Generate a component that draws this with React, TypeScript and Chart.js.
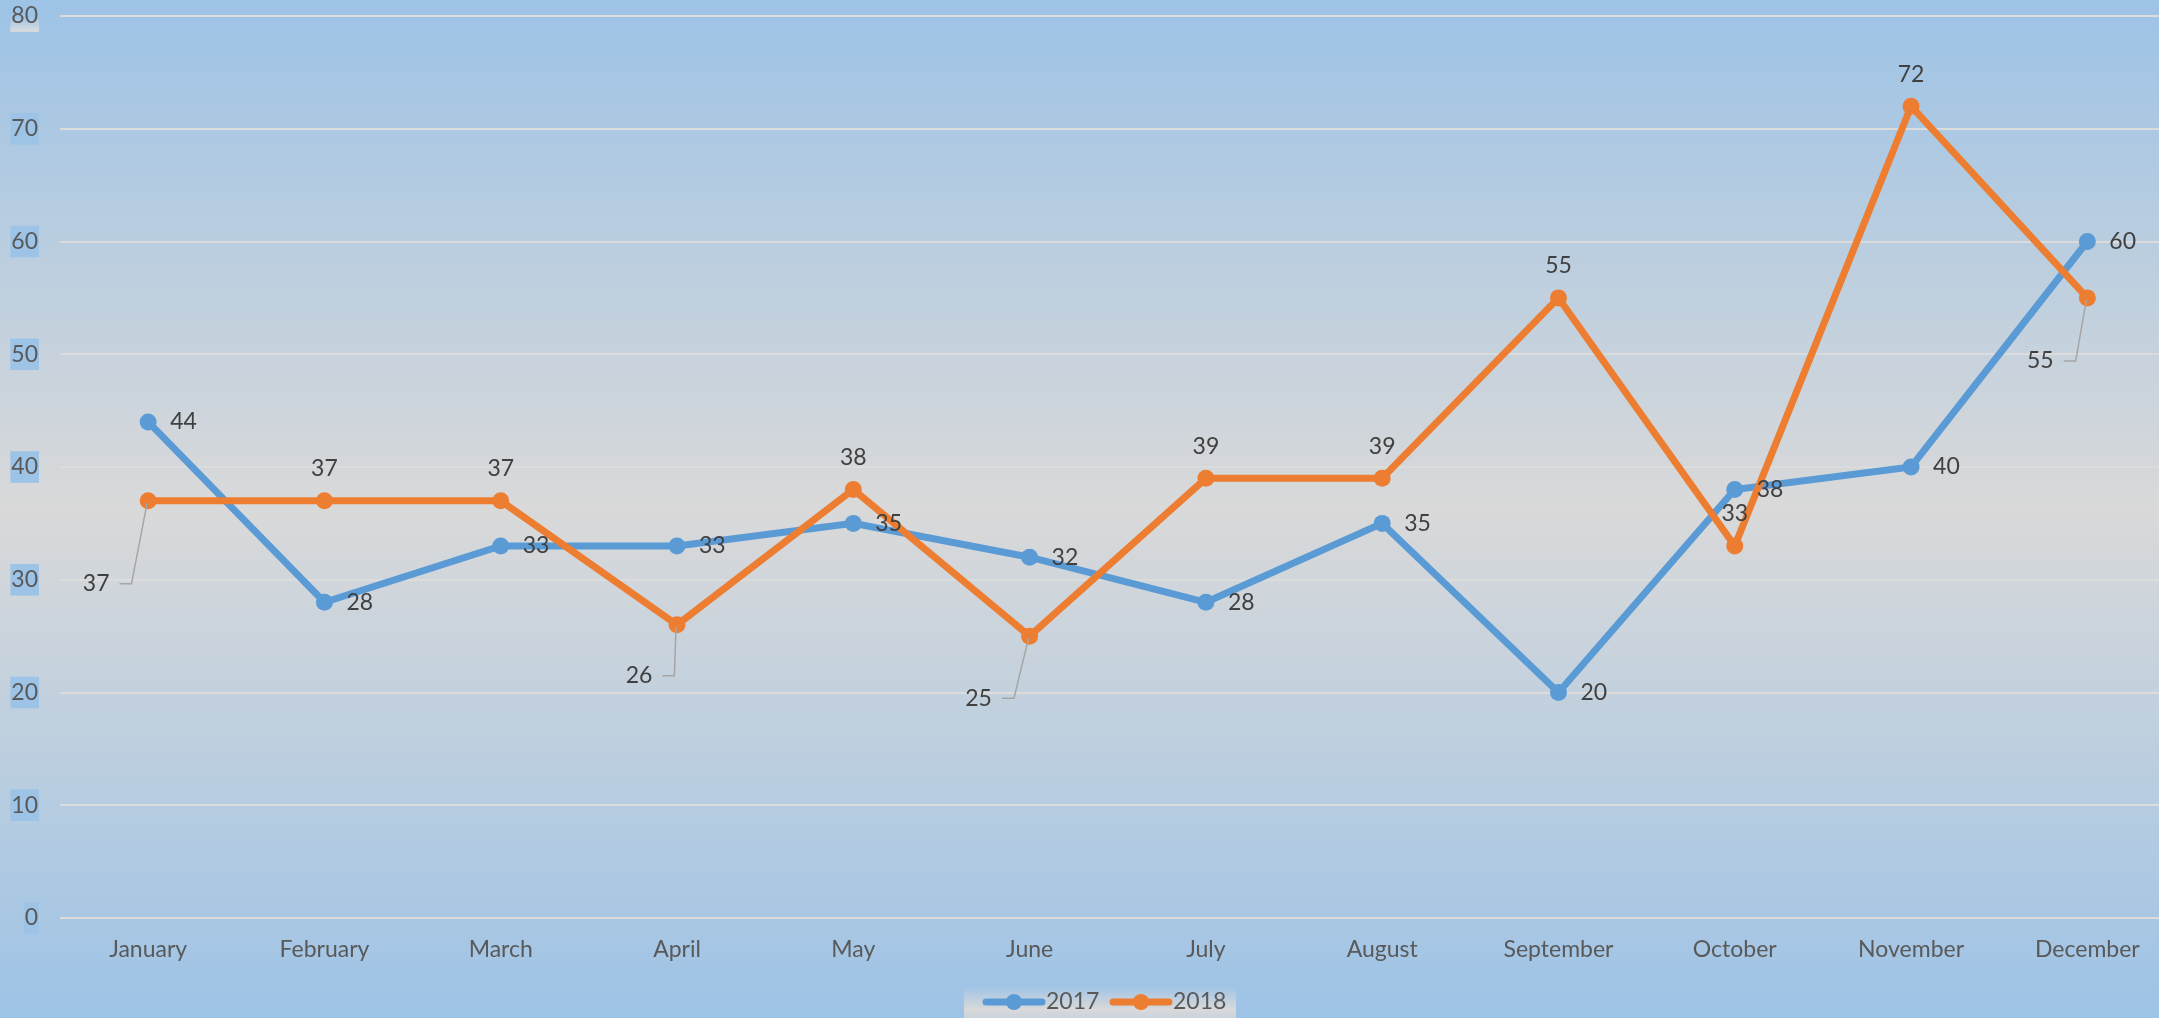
import React, { useEffect, useRef } from 'react';
import { Chart, registerables } from 'chart.js';

Chart.register(...registerables);

const months = ['January', 'February', 'March', 'April', 'May', 'June', 'July', 'August', 'September', 'October', 'November', 'December'];
const series2017 = [44, 28, 33, 33, 35, 32, 28, 35, 20, 38, 40, 60];
const series2018 = [37, 37, 37, 26, 38, 25, 39, 39, 55, 33, 72, 55];
const seriesNames = ['2017', '2018'];
const yMin = 0;
const yMax = 80;
const yStep = 10;

const COLOR_2017 = '#5b9bd5';
const COLOR_2018 = '#ed7d31';
const BG_BLUE = '#9dc3e6';
const BG_GRAY = '#d9d9d9';
const FONT = 'Lato, "Open Sans", sans-serif';
const FONT_SIZE = 23;

// data label placement: 2018 labels that are moved away with a leader line (index -> [dx, dy])
const leader2018: Record<number, [number, number]> = {
  0: [-52, 83],
  3: [-38, 51],
  5: [-51, 62],
  11: [-47, 63],
};

const backgroundPlugin = {
  id: 'bgGradient',
  beforeDraw(chart: any) {
    const { ctx, width, height } = chart;
    const g = ctx.createLinearGradient(0, 0, 0, height);
    g.addColorStop(0, BG_BLUE);
    g.addColorStop(0.5, BG_GRAY);
    g.addColorStop(1, BG_BLUE);
    ctx.save();
    ctx.fillStyle = g;
    ctx.fillRect(0, 0, width, height);
    ctx.restore();
  },
};

const dataLabelPlugin = {
  id: 'dataLabels',
  afterDatasetsDraw(chart: any) {
    const { ctx } = chart;
    ctx.save();
    ctx.font = `${FONT_SIZE}px ${FONT}`;
    ctx.fillStyle = '#404040';
    chart.data.datasets.forEach((ds: any, di: number) => {
      const meta = chart.getDatasetMeta(di);
      meta.data.forEach((pt: any, i: number) => {
        const v = ds.data[i];
        const text = String(v);
        const px = pt.x;
        const py = pt.y;
        if (di === 0) {
          ctx.textAlign = 'left';
          ctx.textBaseline = 'middle';
          ctx.fillText(text, px + 22, py);
        } else {
          const lead = leader2018[i];
          if (lead) {
            const cx = px + lead[0];
            const cy = py + lead[1];
            const w = ctx.measureText(text).width;
            ctx.textAlign = 'center';
            ctx.textBaseline = 'middle';
            ctx.fillText(text, cx, cy);
            ctx.save();
            ctx.strokeStyle = '#a6a6a6';
            ctx.lineWidth = 1.5;
            ctx.beginPath();
            ctx.moveTo(cx + w / 2 + 10, cy);
            ctx.lineTo(cx + w / 2 + 22, cy);
            ctx.lineTo(px - 1, py + 2);
            ctx.stroke();
            ctx.restore();
          } else {
            ctx.textAlign = 'center';
            ctx.textBaseline = 'middle';
            ctx.fillText(text, px, py - 32);
          }
        }
      });
    });
    ctx.restore();
  },
};

const legendPlugin = {
  id: 'customLegend',
  afterDraw(chart: any) {
    const { ctx } = chart;
    const boxL = 964;
    const boxR = 1236;
    const boxT = 985;
    const boxB = 1040;
    ctx.save();
    const g = ctx.createLinearGradient(0, boxT, 0, boxB);
    g.addColorStop(0, BG_BLUE);
    g.addColorStop(0.45, BG_GRAY);
    g.addColorStop(1, BG_BLUE);
    ctx.fillStyle = g;
    ctx.fillRect(boxL, boxT, boxR - boxL, boxB - boxT);
    const cy = 1002;
    const items = [
      { name: seriesNames[0], color: COLOR_2017, x: 986 },
      { name: seriesNames[1], color: COLOR_2018, x: 1113 },
    ];
    items.forEach((it) => {
      ctx.strokeStyle = it.color;
      ctx.lineWidth = 7;
      ctx.lineCap = 'round';
      ctx.beginPath();
      ctx.moveTo(it.x, cy);
      ctx.lineTo(it.x + 56, cy);
      ctx.stroke();
      ctx.fillStyle = it.color;
      ctx.beginPath();
      ctx.arc(it.x + 28, cy, 8, 0, Math.PI * 2);
      ctx.fill();
      ctx.fillStyle = '#595959';
      ctx.font = `${FONT_SIZE}px ${FONT}`;
      ctx.textAlign = 'left';
      ctx.textBaseline = 'middle';
      ctx.fillText(it.name, it.x + 60, cy);
    });
    ctx.restore();
  },
};

export default function App() {
  const canvasRef = useRef<HTMLCanvasElement | null>(null);

  useEffect(() => {
    document.body.style.margin = '0';
    const canvas = canvasRef.current;
    if (!canvas) return;
    const chart = new Chart(canvas, {
      type: 'line',
      data: {
        labels: months,
        datasets: [
          {
            label: seriesNames[0],
            data: series2017,
            borderColor: COLOR_2017,
            backgroundColor: COLOR_2017,
            borderWidth: 7,
            pointRadius: 8.5,
            pointBorderWidth: 0,
            pointBackgroundColor: COLOR_2017,
            tension: 0,
            order: 2,
          },
          {
            label: seriesNames[1],
            data: series2018,
            borderColor: COLOR_2018,
            backgroundColor: COLOR_2018,
            borderWidth: 7,
            pointRadius: 8.5,
            pointBorderWidth: 0,
            pointBackgroundColor: COLOR_2018,
            tension: 0,
            order: 1,
          },
        ],
      },
      options: {
        responsive: false,
        animation: false,
        devicePixelRatio: 1,
        layout: { padding: { top: 0, left: 0, right: 0, bottom: 0 } },
        plugins: {
          legend: { display: false },
          tooltip: { enabled: false },
          title: { display: false },
        },
        scales: {
          x: {
            offset: true,
            grid: { display: false },
            border: { display: false },
            ticks: {
              color: '#595959',
              font: { family: FONT, size: FONT_SIZE },
              padding: 10,
              maxRotation: 0,
              autoSkip: false,
            },
            afterFit(scale: any) {
              scale.height = 100;
            },
          },
          y: {
            min: yMin,
            max: yMax,
            border: { display: false },
            grid: { color: '#dcdcdc', lineWidth: 2, drawTicks: false },
            ticks: {
              stepSize: yStep,
              color: '#595959',
              font: { family: FONT, size: FONT_SIZE },
              padding: 22,
              showLabelBackdrop: true,
              backdropPadding: { top: 2, bottom: 2, left: 1, right: 1 },
              backdropColor: (c: any) => {
                const s = c.scale;
                if (!s || !c.tick) return 'rgba(0,0,0,0)';
                const y = s.getPixelForValue(c.tick.value);
                const g = c.chart.ctx.createLinearGradient(0, y - 15, 0, y + 15);
                g.addColorStop(0, BG_BLUE);
                g.addColorStop(0.5, '#dedede');
                g.addColorStop(1, BG_BLUE);
                return g;
              },
            },
            afterFit(scale: any) {
              scale.width = 60;
              scale.paddingTop = 16;
              scale.paddingBottom = 0;
            },
          },
        },
      },
      plugins: [backgroundPlugin, dataLabelPlugin, legendPlugin],
    });
    return () => chart.destroy();
  }, []);

  return (
    <div style={{ position: 'fixed', left: 0, top: 0, width: 2159, height: 1018, overflow: 'hidden' }}>
      <canvas ref={canvasRef} width={2184} height={1018} style={{ display: 'block', width: 2184, height: 1018 }} />
    </div>
  );
}
